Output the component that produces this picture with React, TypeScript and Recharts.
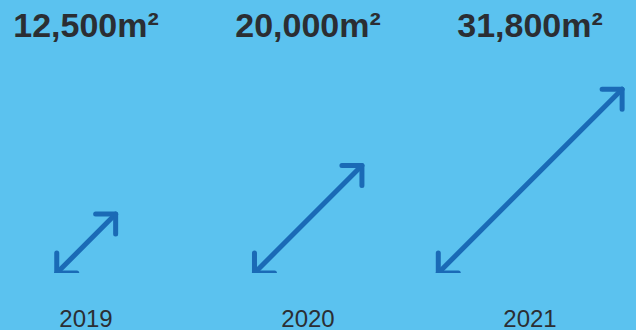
import React from 'react';
import { BarChart, Bar, XAxis, YAxis } from 'recharts';

const years = ['2019', '2020', '2021'];
const areas = [12500, 20000, 31800];

const data = years.map((year, i) => ({
  year,
  value: areas[i],
  label: `${areas[i].toLocaleString('en-US')}m\u00B2`,
}));

const BG = '#5BC2EF';
const ARROW = '#1A6AB6';
const TEXT = '#2B2E33';
const FONT = '"Liberation Sans", Arial, sans-serif';

// double-headed diagonal arrow, square box sized by the bar height
const ArrowShape = (props: any) => {
  const { x, y, width, height } = props;
  const cx = x + width / 2;
  const s = height;
  const x1 = cx - s / 2;
  const y1 = y + s;
  const x2 = cx + s / 2;
  const y2 = y;
  const arm = 20;
  return (
    <g stroke={ARROW} strokeWidth={5} strokeLinecap="round" strokeLinejoin="round" fill="none">
      <line x1={x1} y1={y1} x2={x2} y2={y2} />
      <polyline points={`${x2 - arm},${y2} ${x2},${y2} ${x2},${y2 + arm}`} />
      <polyline points={`${x1},${y1 - arm} ${x1},${y1} ${x1 + arm},${y1}`} />
    </g>
  );
};

const TopTick = (props: any) => {
  const { x, y, payload } = props;
  return (
    <text x={x} y={y - 25} textAnchor="middle" fill={TEXT} fontFamily={FONT} fontWeight="bold" fontSize={34}>
      {payload.value}
    </text>
  );
};

const BottomTick = (props: any) => {
  const { x, y, payload } = props;
  return (
    <text x={x} y={y + 54} textAnchor="middle" fill={TEXT} fontFamily={FONT} fontSize={24}>
      {payload.value}
    </text>
  );
};

export default function App() {
  return (
    <div
      style={{
        position: 'absolute',
        left: 0,
        top: 0,
        width: 636,
        height: 330,
        overflow: 'hidden',
        background: BG,
      }}
    >
      <div style={{ position: 'absolute', left: -25, top: 0 }}>
        <BarChart width={666} height={330} data={data} margin={{ top: 0, right: 0, bottom: 0, left: 0 }}>
          <XAxis
            xAxisId="top"
            orientation="top"
            dataKey="label"
            height={62}
            axisLine={false}
            tickLine={false}
            tickSize={0}
            tickMargin={0}
            interval={0}
            tick={<TopTick />}
          />
          <XAxis
            dataKey="year"
            height={57}
            axisLine={false}
            tickLine={false}
            tickSize={0}
            tickMargin={0}
            interval={0}
            tick={<BottomTick />}
          />
          <YAxis hide domain={[3400, 36000]} allowDataOverflow />
          <Bar dataKey="value" shape={<ArrowShape />} isAnimationActive={false} />
        </BarChart>
      </div>
    </div>
  );
}
